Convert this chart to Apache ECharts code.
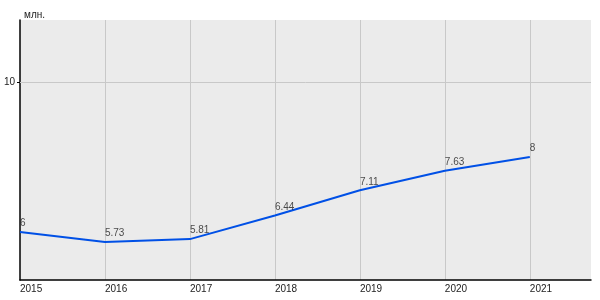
<!DOCTYPE html>
<html>
<head>
<meta charset="utf-8">
<script src="https://cdn.jsdelivr.net/npm/echarts@6/dist/echarts.min.js"></script>
<style>html,body{margin:0;padding:0;background:#fff}#c{width:600px;height:300px}</style>
</head>
<body>
<div id="c"></div>
<script>
var years = [2015, 2016, 2017, 2018, 2019, 2020, 2021];
var values = [6, 5.73, 5.81, 6.44, 7.11, 7.63, 8];
var valueLabels = ['6', '5.73', '5.81', '6.44', '7.11', '7.63', '8'];
var yTicks = [10];
var unitLabel = 'млн.';

var chart = echarts.init(document.getElementById('c'), null, {renderer: 'canvas'});
var data = years.map(function (y, i) { return [y, values[i]]; });
chart.setOption({
  animation: false,
  textStyle: {fontFamily: 'Liberation Sans, Arial, sans-serif'},
  grid: {left: 20, top: 20, right: 9, bottom: 20, show: true, backgroundColor: '#ebebeb', borderWidth: 0},
  title: {text: unitLabel, left: 19, top: 5, textStyle: {fontSize: 10, fontWeight: 'normal', color: '#222'}},
  xAxis: {
    type: 'value', min: 2015, max: 2021.72, interval: 1,
    axisLine: {show: true, lineStyle: {color: '#000', width: 1.5}},
    axisTick: {show: false},
    axisLabel: {
      color: '#222', fontSize: 10, align: 'left', margin: 4,
      formatter: function (v) { return (Math.abs(v - Math.round(v)) < 1e-6 && v <= 2021) ? String(Math.round(v)) : ''; }
    },
    splitLine: {show: true, showMinLine: false, showMaxLine: false, lineStyle: {color: '#c8c8c8', width: 1}}
  },
  yAxis: {
    type: 'value', min: 4.72, max: 11.65,
    axisLine: {show: true, onZero: false, lineStyle: {color: '#000', width: 1.5}},
    axisTick: {show: true, customValues: yTicks, length: 3, lineStyle: {color: '#000'}},
    axisLabel: {show: true, customValues: yTicks, color: '#222', fontSize: 10, margin: 5},
    splitLine: {show: false}
  },
  series: [{
    type: 'line',
    data: data,
    symbol: 'none',
    lineStyle: {color: '#0050e6', width: 2},
    markLine: {
      silent: true, symbol: 'none', label: {show: false},
      lineStyle: {color: '#c8c8c8', width: 1, type: 'solid'},
      data: yTicks.map(function (t) { return {yAxis: t}; })
    },
    z: 3
  }, {
    type: 'scatter',
    data: data,
    symbolSize: 1,
    itemStyle: {color: 'rgba(0,0,0,0)'},
    label: {
      show: true, position: 'top', align: 'left', distance: 3,
      fontSize: 10, color: '#222',
      formatter: function (p) { return valueLabels[p.dataIndex]; }
    },
    z: 4
  }]
});
</script>
</body>
</html>
